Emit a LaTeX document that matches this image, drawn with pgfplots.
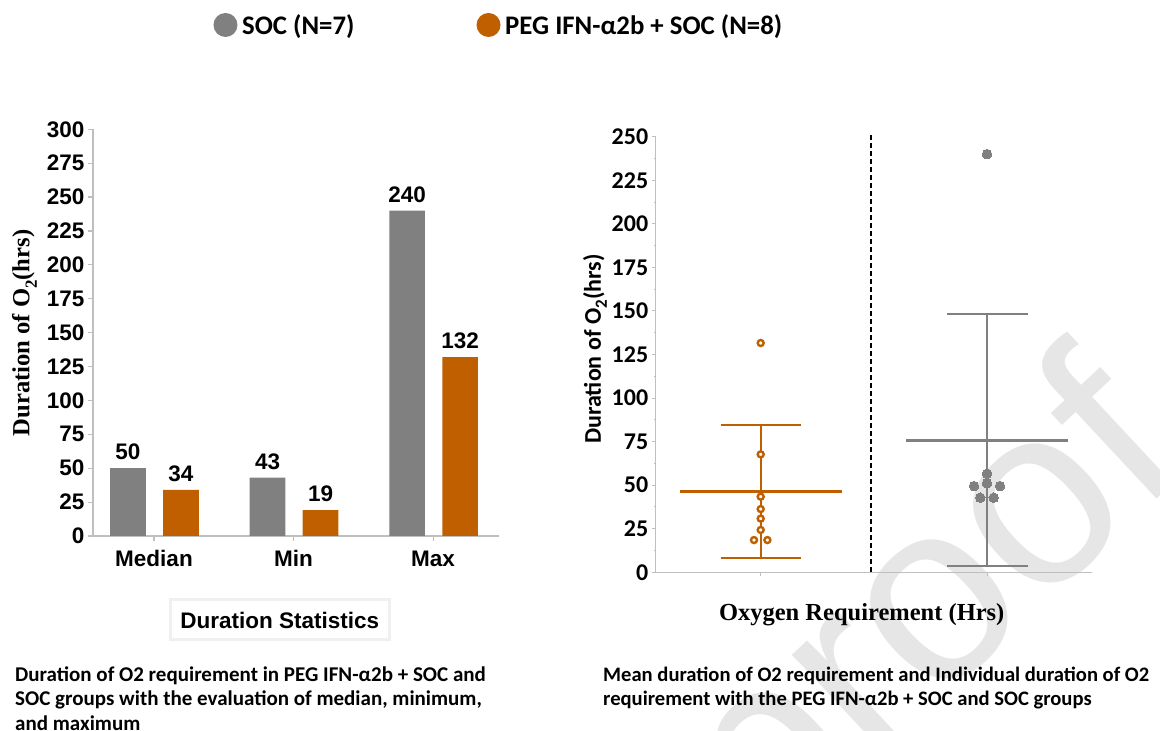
\documentclass[border=0pt]{standalone}
\usepackage{fontspec}
\usepackage{pgfplots}
\pgfplotsset{compat=1.18}
\setmainfont{Liberation Sans}
\newfontfamily\arialf{Liberation Sans}
\newfontfamily\calf{Carlito}
\newfontfamily\timesf{Liberation Serif}
\definecolor{socgray}{HTML}{808080}
\definecolor{pegor}{HTML}{C05F00}
\definecolor{axgray}{HTML}{BFBFBF}
\definecolor{wm}{HTML}{E6E6E6}
\newcommand\fs[1]{\fontsize{#1pt}{#1pt}\selectfont}
\begin{document}
\begin{tikzpicture}[x=1pt,y=1pt]
\path[use as bounding box] (0,0) rectangle (1160,731);
% watermark
\node[rotate=43, text=wm, font=\arialf\fs{255}] at (935,115) {proof};
% ---------- left chart ----------
\begin{axis}[
  at={(93pt,195pt)}, anchor=south west,
  scale only axis, width=406pt, height=406.7pt,
  xmin=-0.437, xmax=2.472, ymin=0, ymax=300,
  axis x line*=bottom, axis y line*=left,
  axis line style={axgray, line width=1.5pt},
  ytick={0,25,...,300}, xtick={0,1,2}, xticklabels={Median,Min,Max},
  tick style={axgray, line width=1.2pt}, tick align=outside, major tick length=5pt,
  ticklabel style={font=\arialf\bfseries\fs{22.5}, text=black},
  xticklabel style={yshift=-6pt},
  /pgf/number format/assume math mode=true,
  every axis y label/.style={at={(axis description cs:-0.1564,0.4991)}, anchor=base, rotate=90, font=\timesf\bfseries\fs{24.6}},
  ylabel={Duration of O\raisebox{-0.3em}{\fs{17}2}(hrs)},
  every axis x label/.style={at={(axis description cs:0.4599,-0.2065)}, anchor=center, draw=black!6, line width=3pt, minimum width=219pt, minimum height=40pt, inner sep=0pt, font=\arialf\bfseries\fs{22.5}},
  xlabel={Duration Statistics},
  legend style={at={(axis description cs:0.2963,1.2565)}, anchor=west, draw=none, fill=none, inner sep=0pt, legend columns=4, nodes={inner sep=0pt}, font=\calf\bfseries\fs{26.8}},
  /tikz/every odd column/.append style={column sep=4.7pt},
  /tikz/every even column/.append style={column sep=122pt},
]
\addplot[ybar, fill=socgray, draw=none, bar width=35.7pt, bar shift=-26pt,
  nodes near coords, every node near coord/.append style={font=\arialf\bfseries\fs{22.5}, text=black, anchor=south, inner sep=0pt, yshift=8pt, xshift=-26pt},
  legend image code/.code={\fill[socgray] (12pt,0pt) circle (12pt);}]
  coordinates {(0,50) (1,43) (2,240)};
\addlegendentry{SOC (N=7)}
\addplot[ybar, fill=pegor, draw=none, bar width=35.7pt, bar shift=27pt,
  nodes near coords, every node near coord/.append style={font=\arialf\bfseries\fs{22.5}, text=black, anchor=south, inner sep=0pt, yshift=8pt, xshift=27pt},
  legend image code/.code={\fill[pegor] (12pt,0pt) circle (12pt);}]
  coordinates {(0,34) (1,19) (2,132)};
\addlegendentry{PEG IFN-α2b + SOC (N=8)}
\end{axis}
% ---------- right chart ----------
\begin{axis}[
  at={(655.7pt,158.7pt)}, anchor=south west,
  scale only axis, width=436.3pt, height=435.6pt,
  xmin=655.7, xmax=1092, ymin=0, ymax=250, clip=false,
  axis x line*=bottom, axis y line*=left,
  axis line style={axgray, line width=1.2pt},
  ytick={0,25,...,250}, minor y tick num=1,
  xtick={760.7,987}, xticklabels={},
  tick style={axgray, line width=1pt}, tick align=outside, major tick length=4pt, minor tick length=2pt,
  ticklabel style={font=\calf\bfseries\fs{24}, text=black},
  /pgf/number format/assume math mode=true,
  every axis y label/.style={at={(axis description cs:-0.1254,0.5126)}, anchor=base, rotate=90, font=\calf\bfseries\fs{24}},
  ylabel={Duration of O\raisebox{-0.25em}{\fs{17}2}(hrs)},
  every axis x label/.style={at={(axis description cs:0.4722,-0.1118)}, anchor=base, font=\timesf\bfseries\fs{24.5}},
  xlabel={Oxygen Requirement (Hrs)},
]
% dashed separator
\addplot[black, line width=1.8pt, dash pattern=on 5pt off 3pt] coordinates {(870.7,0) (870.7,252.2)};
% PEG group: mean and SD
\addplot[pegor, line width=3pt] coordinates {(680,46.4) (841.7,46.4)};
\addplot[pegor, line width=2pt] coordinates {(760.7,8.4) (760.7,84.7)};
\addplot[pegor, line width=2pt] coordinates {(720.7,84.7) (800.7,84.7)};
\addplot[pegor, line width=2pt] coordinates {(720.7,8.4) (800.7,8.4)};
% SOC group: mean and SD
\addplot[socgray, line width=3pt] coordinates {(906,75.8) (1067.7,75.8)};
\addplot[socgray, line width=2pt] coordinates {(987,3.8) (987,148.5)};
\addplot[socgray, line width=2pt] coordinates {(947,148.5) (1027.7,148.5)};
\addplot[socgray, line width=2pt] coordinates {(947,3.8) (1027.7,3.8)};
% individual points
\addplot[only marks, mark=*, mark size=3pt, mark options={line width=2.4pt, draw=pegor, fill=white}]
  coordinates {(760.7,131.6) (760.7,67.7) (760.7,43.4) (760.7,36.3) (760.7,30.8) (760.7,24.3) (754,18.5) (767.4,18.5)};
\addplot[only marks, mark=*, mark size=4.8pt, mark options={draw=socgray, line width=0pt, fill=socgray}]
  coordinates {(987,240) (987,56.6) (987,51.1) (974,49.5) (1000,49.5) (980.3,42.8) (993.7,42.8)};
\end{axis}
% ---------- captions ----------
\begin{scope}[every node/.style={anchor=base west, inner sep=0pt, font=\calf\bfseries\fs{21}}]
\node at (15,49.3) {Duration of O2 requirement in PEG IFN-α2b + SOC and};
\node at (15,25) {SOC groups with the evaluation of median, minimum,};
\node at (15,0.8) {and maximum};
\end{scope}
\begin{scope}[every node/.style={anchor=base west, inner sep=0pt, font=\calf\bfseries\fs{20.6}}]
\node at (603,49.3) {Mean duration of O2 requirement and Individual duration of O2};
\node at (603,25) {requirement with the PEG IFN-α2b + SOC and SOC groups};
\end{scope}
\end{tikzpicture}
\end{document}
